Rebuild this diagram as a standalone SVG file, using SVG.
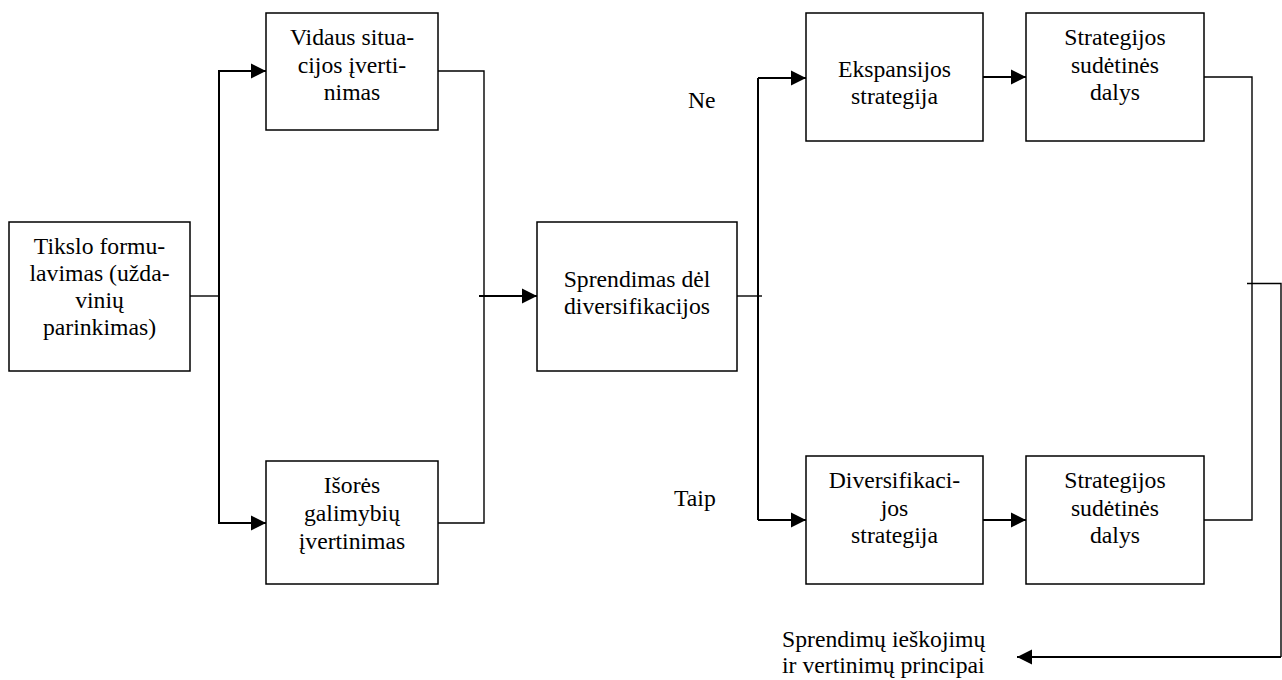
<svg xmlns="http://www.w3.org/2000/svg" width="1282" height="680" viewBox="0 0 1282 680">
<style>
  .box{fill:#fff;stroke:#000;stroke-width:1.5}
  .c{text-anchor:middle}
  .thick{fill:none;stroke:#000;stroke-width:2}
  .thin{fill:none;stroke:#000;stroke-width:1.4}
</style>
<defs>
  <marker id="ah" markerUnits="userSpaceOnUse" markerWidth="16" markerHeight="16" viewBox="0 0 16 16" refX="15" refY="8" orient="auto">
    <path d="M0,0.5 L15,8 L0,15.5 Z" fill="#000"/>
  </marker>
</defs>
<rect width="1282" height="680" fill="#fff"/>
<g id="connectors">
  <path class="thin" d="M190,296 H219"/>
  <path class="thick" d="M266,71 H219 V523 H266" marker-end="url(#ah)"/>
  <path class="thick" d="M219,71 H266" marker-end="url(#ah)"/>
  <path class="thin" d="M438,71 H484 V523 H438"/>
  <path class="thick" d="M479,296 H537" marker-end="url(#ah)"/>
  <path class="thin" d="M737,296 H762"/>
  <path class="thick" d="M758,78 V520"/>
  <path class="thick" d="M758,78 H806" marker-end="url(#ah)"/>
  <path class="thick" d="M758,520 H806" marker-end="url(#ah)"/>
  <path class="thick" d="M983,77 H1026" marker-end="url(#ah)"/>
  <path class="thick" d="M983,520 H1026" marker-end="url(#ah)"/>
  <path class="thin" d="M1204,77 H1252 V520 H1204"/>
  <path class="thin" d="M1247,283.5 H1281 V657"/>
  <path class="thick" d="M1281,657 H1017" marker-end="url(#ah)"/>
</g>
<g font-family="Liberation Serif, DejaVu Serif, serif" font-size="23.7" fill="#000">
<g id="n-tikslo">
  <rect class="box" x="9" y="222" width="181" height="149"/>
  <text class="c" x="99.5" y="254">Tikslo formu-</text>
  <text class="c" x="99.5" y="281">lavimas (užda-</text>
  <text class="c" x="99.5" y="308">vinių</text>
  <text class="c" x="99.5" y="335">parinkimas)</text>
</g>
<g id="n-vidaus">
  <rect class="box" x="266" y="13" width="172" height="117"/>
  <text class="c" x="352" y="45">Vidaus situa-</text>
  <text class="c" x="352" y="73">cijos įverti-</text>
  <text class="c" x="352" y="100">nimas</text>
</g>
<g id="n-isores">
  <rect class="box" x="266" y="461" width="172" height="123"/>
  <text class="c" x="352" y="493">Išorės</text>
  <text class="c" x="352" y="521">galimybių</text>
  <text class="c" x="352" y="549">įvertinimas</text>
</g>
<g id="n-sprendimas">
  <rect class="box" x="537" y="222" width="200" height="149"/>
  <text class="c" x="637" y="287">Sprendimas dėl</text>
  <text class="c" x="637" y="314">diversifikacijos</text>
</g>
<g id="n-ekspansijos">
  <rect class="box" x="806" y="13" width="177" height="128"/>
  <text class="c" x="894.5" y="77">Ekspansijos</text>
  <text class="c" x="894.5" y="104">strategija</text>
</g>
<g id="n-strat1">
  <rect class="box" x="1026" y="13" width="178" height="128"/>
  <text class="c" x="1115" y="45">Strategijos</text>
  <text class="c" x="1115" y="73">sudėtinės</text>
  <text class="c" x="1115" y="100">dalys</text>
</g>
<g id="n-divers">
  <rect class="box" x="806" y="456" width="177" height="128"/>
  <text class="c" x="894.5" y="488">Diversifikaci-</text>
  <text class="c" x="894.5" y="516">jos</text>
  <text class="c" x="894.5" y="543">strategija</text>
</g>
<g id="n-strat2">
  <rect class="box" x="1026" y="456" width="178" height="128"/>
  <text class="c" x="1115" y="488">Strategijos</text>
  <text class="c" x="1115" y="516">sudėtinės</text>
  <text class="c" x="1115" y="543">dalys</text>
</g>
<g id="labels">
  <text x="688" y="108">Ne</text>
  <text x="674" y="506">Taip</text>
  <text x="782" y="647">Sprendimų ieškojimų</text>
  <text x="782" y="673">ir vertinimų principai</text>
</g>
</g>
</svg>
